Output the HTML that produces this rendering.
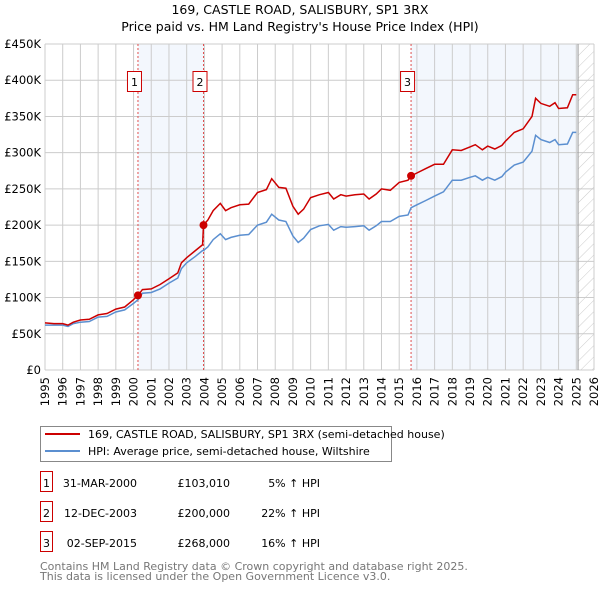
<!DOCTYPE html>
<html><head><meta charset="utf-8"><style>
body{margin:0;background:#fff;}
svg text{font-family:"DejaVu Sans","Liberation Sans",sans-serif;}
</style></head><body>
<svg id="chart" width="600" height="590" viewBox="0 0 600 590" xmlns="http://www.w3.org/2000/svg">
<defs><pattern id="hatch" width="8" height="8" patternUnits="userSpaceOnUse" patternTransform="rotate(45)"><line x1="0" y1="0" x2="0" y2="8" stroke="#ccc" stroke-width="1"/></pattern></defs>
<text x="300" y="14" text-anchor="middle" font-size="12.5">169, CASTLE ROAD, SALISBURY, SP1 3RX</text>
<text x="300" y="31" text-anchor="middle" font-size="12.5">Price paid vs. HM Land Registry's House Price Index (HPI)</text>
<g id="grid"></g>
<g id="marks"></g>
<g>
<rect x="40.5" y="426.5" width="351" height="35" fill="#fff" stroke="#888"/>
<line x1="45" y1="434" x2="80" y2="434" stroke="#cc0000" stroke-width="2"/>
<text x="88" y="438" font-size="11">169, CASTLE ROAD, SALISBURY, SP1 3RX (semi-detached house)</text>
<line x1="45" y1="451" x2="80" y2="451" stroke="#5b8fd0" stroke-width="2"/>
<text x="88" y="455" font-size="11">HPI: Average price, semi-detached house, Wiltshire</text>
</g>
<g id="table" font-size="11"></g>
<text x="40" y="570" font-size="11" fill="#777">Contains HM Land Registry data © Crown copyright and database right 2025.</text>
<text x="40" y="580" font-size="11" fill="#777">This data is licensed under the Open Government Licence v3.0.</text>
</svg>
<script>
const dates=[1995.0,1995.5,1996.0,1996.3,1996.6,1997.0,1997.5,1998.0,1998.5,1999.0,1999.5,2000.0,2000.25,2000.5,2001.0,2001.5,2002.0,2002.5,2002.7,2003.0,2003.5,2003.9,2003.95,2004.2,2004.5,2004.9,2005.2,2005.5,2006.0,2006.5,2007.0,2007.5,2007.8,2008.2,2008.6,2009.0,2009.3,2009.6,2010.0,2010.5,2011.0,2011.3,2011.7,2012.0,2012.5,2013.0,2013.3,2013.7,2014.0,2014.5,2015.0,2015.5,2015.67,2016.0,2016.5,2017.0,2017.5,2018.0,2018.5,2019.0,2019.3,2019.7,2020.0,2020.4,2020.8,2021.0,2021.5,2022.0,2022.5,2022.7,2023.0,2023.5,2023.8,2024.0,2024.5,2024.8,2025.0];
const hpiValues=[62,62,62,60,64,66,67,73,74,80,83,92,97,106,107,112,120,127,140,148,157,165,165,170,180,188,180,183,186,187,200,204,215,207,205,185,176,182,194,199,201,193,198,197,198,199,193,199,205,205,212,214,224,228,234,240,246,262,262,266,268,262,266,262,267,273,283,287,302,324,318,314,318,311,312,328,328];
const priceValues=[65,64,64,62,66,69,70,76,78,84,87,97,103,111,112,118,126,134,148,155,165,173,200,207,220,230,220,224,228,229,245,249,264,252,251,226,215,222,238,242,245,236,242,240,242,243,236,243,250,248,259,262,268,272,278,284,284,304,303,308,311,304,309,305,310,316,328,333,350,375,368,364,369,361,362,380,380];
const saleIds=["1","2","3"];
const saleDates=[2000.25,2003.95,2015.67];
const salePrices=[103,200,268];
const saleDateLabels=["31-MAR-2000","12-DEC-2003","02-SEP-2015"];
const salePriceLabels=["£103,010","£200,000","£268,000"];
const salePctLabels=["5% ↑ HPI","22% ↑ HPI","16% ↑ HPI"];
const yTicks=[0,50,100,150,200,250,300,350,400,450];
const yTickLabels=["£0","£50K","£100K","£150K","£200K","£250K","£300K","£350K","£400K","£450K"];
const xTicks=[1995,1996,1997,1998,1999,2000,2001,2002,2003,2004,2005,2006,2007,2008,2009,2010,2011,2012,2013,2014,2015,2016,2017,2018,2019,2020,2021,2022,2023,2024,2025,2026];
const dataEnd=2025.1;

const X0=45,X1=594,Y0=370,Y1=44;
const xs=v=>X0+(v-1995)/31*(X1-X0);
const ys=v=>Y0-v/450*(Y0-Y1);
const NS="http://www.w3.org/2000/svg";
function mk(tag,attrs,parent){const e=document.createElementNS(NS,tag);for(const k in attrs)e.setAttribute(k,attrs[k]);parent.appendChild(e);return e;}
const grid=document.getElementById('grid'),marks=document.getElementById('marks'),table=document.getElementById('table');
for(let i=0;i<2;i++){
 const r=mk('rect',{x:xs(saleDates[i*2]),y:Y1,width:(i==0?xs(saleDates[1]):xs(dataEnd))-xs(saleDates[i*2]),height:Y0-Y1,fill:'#eef3fc',opacity:0.7},grid);
 
 
}
const h=mk('rect',{x:xs(dataEnd),y:Y1,width:X1-xs(dataEnd),height:Y0-Y1,fill:'url(#hatch)'},grid);


yTicks.forEach((t,i)=>{
 const l=mk('line',{x1:X0,x2:X1,y1:ys(t),y2:ys(t),stroke:'#ccc','stroke-width':1},grid);
 
 
 const tx=mk('text',{x:X0-4,y:ys(t)+4,'text-anchor':'end','font-size':11.5},grid);
 tx.textContent=yTickLabels[i];
 
 
});
xTicks.forEach(t=>{
 const l=mk('line',{x1:xs(t),x2:xs(t),y1:Y1,y2:Y0,stroke:'#ccc','stroke-width':1},grid);
 
 
 const tx=mk('text',{x:0,y:0,'text-anchor':'end','font-size':11.5,transform:`translate(${xs(t)+4},${Y0+7}) rotate(-90)`},grid);
 tx.textContent=t;
 
 
});
const el=mk('line',{x1:xs(dataEnd),x2:xs(dataEnd),y1:Y1,y2:Y0,stroke:'#999','stroke-width':1},grid);


saleDates.forEach((d,i)=>{
 const l=mk('line',{x1:xs(d),x2:xs(d),y1:Y1,y2:Y0,stroke:'#e05050','stroke-width':1,'stroke-dasharray':'2,2'},marks);
 
 
 const b=mk('rect',{x:xs(d)-10.5,y:71.5,width:14,height:20,fill:'#fff',stroke:'#cc0000'},marks);
 
 
 const t=mk('text',{x:xs(d)-3.5,y:86,'text-anchor':'middle','font-size':11},marks);
 t.textContent=saleIds[i];
 
 
});
const path=(vals)=>dates.map((d,i)=>(i?'L':'M')+xs(d).toFixed(1)+','+ys(vals[i]).toFixed(1)).join('');
const hp=mk('path',{d:path(hpiValues),fill:'none',stroke:'#5b8fd0','stroke-width':1.5},marks);


const pp=mk('path',{d:path(priceValues),fill:'none',stroke:'#cc0000','stroke-width':1.5},marks);


saleDates.forEach((d,i)=>{
 const c=mk('circle',{cx:xs(d),cy:ys(salePrices[i]),r:4,fill:'#cc0000'},marks);
 
 
});
saleIds.forEach((id,i)=>{
 const y=483+i*30;
 const b=mk('rect',{x:40.5,y:y-11.5,width:12,height:20,fill:'#fff',stroke:'#cc0000'},table);
 
 
 const vals=[[id,46.5,'middle'],[saleDateLabels[i],137,'end'],[salePriceLabels[i],230,'end'],[salePctLabels[i],320,'end']];
 const names=['table-id','table-date','table-price','table-hpi-change'];
 vals.forEach((v,j)=>{
  const t=mk('text',{x:v[1],y:y+4,'text-anchor':v[2]},table);
  t.textContent=v[0];
  
  
 });
});
</script>
</body></html>
